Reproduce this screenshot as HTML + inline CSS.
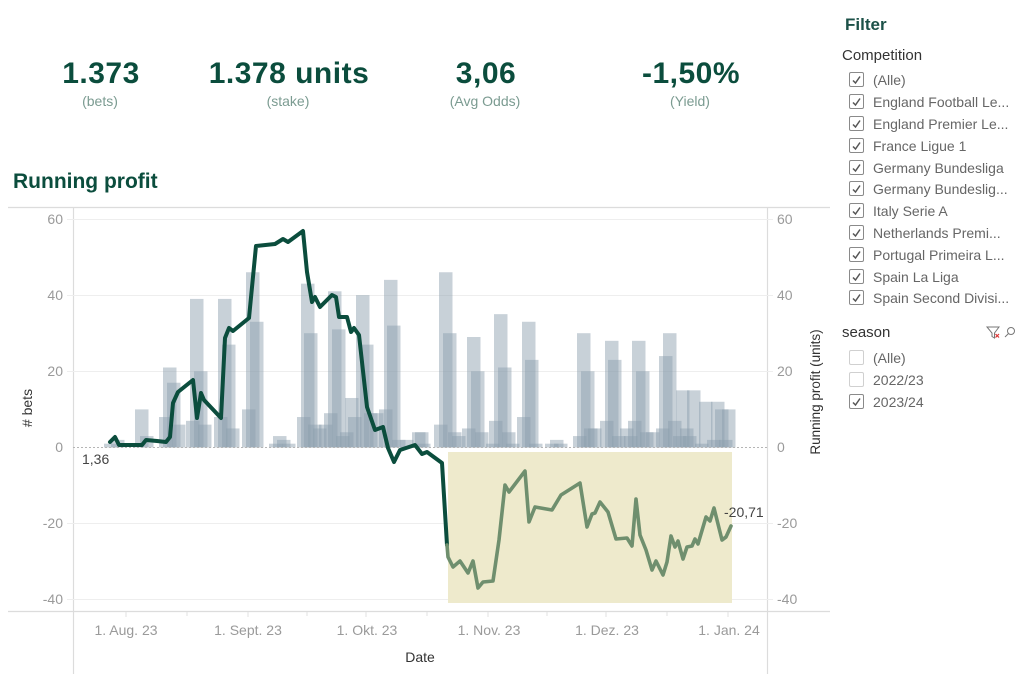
<!DOCTYPE html>
<html><head><meta charset="utf-8"><style>
html,body{margin:0;padding:0;background:#fff;}
svg{display:block;font-family:"Liberation Sans",sans-serif;}
</style></head><body>
<svg width="1024" height="691" viewBox="0 0 1024 691" xmlns="http://www.w3.org/2000/svg">
<rect width="1024" height="691" fill="#fff"/>
<!-- KPIs -->
<g font-weight="bold" font-size="30" fill="#0b4d3d" text-anchor="middle" letter-spacing="0.5">
<text x="101" y="83">1.373</text>
<text x="289" y="83">1.378 units</text>
<text x="486" y="83">3,06</text>
<text x="691" y="83">-1,50%</text>
</g>
<g font-size="14" fill="#7b9b91" text-anchor="middle">
<text x="100" y="106">(bets)</text>
<text x="288" y="106">(stake)</text>
<text x="485" y="106">(Avg Odds)</text>
<text x="690" y="106">(Yield)</text>
</g>
<text x="13" y="188" font-size="21" font-weight="bold" fill="#0b4d3d">Running profit</text>

<!-- chart frame -->
<g stroke="#dcdcdc" stroke-width="1.2" fill="none">
<line x1="8" y1="207.5" x2="830" y2="207.5"/>
<line x1="8" y1="611.5" x2="830" y2="611.5"/>
<line x1="73.5" y1="207" x2="73.5" y2="674"/>
<line x1="767.5" y1="207" x2="767.5" y2="674"/>
</g>
<!-- gridlines -->
<g stroke="#eeeeee" stroke-width="1">
<line x1="67" y1="219.5" x2="773" y2="219.5"/>
<line x1="67" y1="295.5" x2="773" y2="295.5"/>
<line x1="67" y1="371.5" x2="773" y2="371.5"/>
<line x1="67" y1="523.5" x2="773" y2="523.5"/>
<line x1="67" y1="599.5" x2="773" y2="599.5"/>
</g>
<!-- x ticks -->
<g stroke="#e2e2e2" stroke-width="1">
<line x1="126" y1="612" x2="126" y2="617"/><line x1="187" y1="612" x2="187" y2="616"/>
<line x1="248" y1="612" x2="248" y2="617"/><line x1="307" y1="612" x2="307" y2="616"/>
<line x1="366" y1="612" x2="366" y2="617"/><line x1="427" y1="612" x2="427" y2="616"/>
<line x1="488" y1="612" x2="488" y2="617"/><line x1="547" y1="612" x2="547" y2="616"/>
<line x1="606" y1="612" x2="606" y2="617"/><line x1="667" y1="612" x2="667" y2="616"/>
<line x1="728" y1="612" x2="728" y2="617"/>
</g>
<!-- highlight -->
<rect x="448" y="452" width="284" height="151" fill="#eeeacc"/>
<!-- bars -->
<g fill="rgb(140,158,173)" fill-opacity="0.48" id="bars"></g>
<!-- zero line -->
<line x1="73" y1="447.5" x2="767" y2="447.5" stroke="#b5b5b5" stroke-width="1" stroke-dasharray="2,2"/>
<!-- lines -->
<path fill="none" stroke="#0b4d3d" stroke-width="4" stroke-linejoin="round" stroke-linecap="round" d="M110,442 L115,437 L119,445 L142,445 L146,440 L157,441 L166,442 L170,437 L173,403 L178,392 L193,380 L197,418 L201,393 L204,400 L221,418 L225,338 L229,328 L233,331 L249,318 L256,246 L275,244 L283,239 L288,242 L303,231 L307,272 L312,302 L315,297 L320,307 L332,295 L336,297 L339,317 L347,317 L351,332 L354,328 L359,335 L367,407 L375,430 L383,427 L388,448 L394,462 L400,450 L415,445 L422,454 L427,452 L442,463 L447,545"/>
<path fill="none" stroke="#6f8f6e" stroke-width="3.6" stroke-linejoin="round" stroke-linecap="round" d="M447,545 L448,557 L453,567 L460,561 L468,573 L473,561 L478,588 L483,582 L493,581 L499,540 L505,485 L509,492 L525,471 L529,522 L535,507 L552,510 L561,495 L580,483 L587,527 L592,514 L595,513 L600,502 L608,512 L616,539 L627,538 L632,546 L636,499 L640,535 L646,550 L652,570 L656,561 L663,575 L667,562 L671,536 L675,547 L678,541 L683,559 L687,547 L692,546 L695,539 L698,544 L706,517 L710,521 L714,508 L722,540 L726,537 L731,526"/>
<text x="82" y="464" font-size="14" fill="#444">1,36</text>
<text x="724" y="517" font-size="14" fill="#444">-20,71</text>
<!-- y tick labels -->
<g font-size="14" fill="#9a9a9a" text-anchor="end">
<text x="63" y="224">60</text><text x="63" y="300">40</text><text x="63" y="376">20</text>
<text x="63" y="452">0</text><text x="63" y="528">-20</text><text x="63" y="604">-40</text>
</g>
<g font-size="14" fill="#9a9a9a">
<text x="777" y="224">60</text><text x="777" y="300">40</text><text x="777" y="376">20</text>
<text x="777" y="452">0</text><text x="777" y="528">-20</text><text x="777" y="604">-40</text>
</g>
<!-- x labels -->
<g font-size="14" fill="#9a9a9a" text-anchor="middle">
<text x="126" y="635">1. Aug. 23</text><text x="248" y="635">1. Sept. 23</text>
<text x="367" y="635">1. Okt. 23</text><text x="489" y="635">1. Nov. 23</text>
<text x="607" y="635">1. Dez. 23</text><text x="729" y="635">1. Jan. 24</text>
</g>
<text x="420" y="662" font-size="14" fill="#333" text-anchor="middle">Date</text>
<text transform="translate(32,408) rotate(-90)" font-size="14" fill="#333" text-anchor="middle"># bets</text>
<text transform="translate(820,392) rotate(-90)" font-size="13.5" fill="#333" text-anchor="middle">Running profit (units)</text>

<!-- filter panel -->
<text x="845" y="30" font-size="17" font-weight="bold" fill="#1c5148">Filter</text>
<text x="842" y="60" font-size="15" fill="#333">Competition</text>
<g font-size="14" fill="#666" id="comp">
<text x="873" y="85">(Alle)</text>
<text x="873" y="107">England Football Le...</text>
<text x="873" y="129">England Premier Le...</text>
<text x="873" y="151">France Ligue 1</text>
<text x="873" y="173">Germany Bundesliga</text>
<text x="873" y="194">Germany Bundeslig...</text>
<text x="873" y="216">Italy Serie A</text>
<text x="873" y="238">Netherlands Premi...</text>
<text x="873" y="260">Portugal Primeira L...</text>
<text x="873" y="282">Spain La Liga</text>
<text x="873" y="303">Spain Second Divisi...</text>
</g>
<g id="boxes" fill="#fff" stroke="#8a8a8a" stroke-width="1"></g>
<text x="842" y="337" font-size="15" fill="#333">season</text>
<g font-size="14" fill="#666">
<text x="873" y="363">(Alle)</text>
<text x="873" y="385">2022/23</text>
<text x="873" y="407">2023/24</text>
</g>
<!-- season icons -->
<g fill="none" stroke="#777" stroke-width="1">
<path d="M987,327 L999,327 L994.5,333 L994.5,338 L992,336.5 L992,333 Z"/>
<circle cx="1011" cy="331" r="3.5"/>
<line x1="1008.5" y1="333.5" x2="1005" y2="337"/>
</g>
<g stroke="#d33" stroke-width="1.2"><line x1="995.5" y1="334" x2="999" y2="337.5"/><line x1="999" y1="334" x2="995.5" y2="337.5"/></g>
</svg>
<script>
(function(){
var ns="http://www.w3.org/2000/svg";
var bars=[[104,1],[111,2],[135,10],[140,3],[159,8],[163,21],[167,17],[172,6],[186,7],[190,39],[194,20],[198,6],[214,8],[218,39],[222,27],[226,5],[242,10],[246,46],[250,33],[269,1],[273,3],[277,2],[282,1],[297,8],[301,43],[304,30],[308,6],[313,5],[319,6],[324,9],[328,41],[332,31],[336,3],[340,4],[345,13],[348,8],[356,40],[360,27],[364,9],[370,9],[379,10],[384,44],[387,32],[392,2],[400,2],[412,4],[415,4],[417,1],[434,6],[439,46],[443,30],[448,4],[452,3],[462,5],[467,29],[471,20],[475,4],[486,1],[489,7],[494,35],[498,21],[502,4],[506,1],[517,8],[522,33],[525,23],[529,1],[545,1],[550,2],[554,1],[573,3],[577,30],[581,20],[584,5],[588,5],[600,7],[605,28],[608,23],[612,3],[620,5],[624,3],[628,7],[632,28],[636,20],[640,4],[646,4],[656,5],[659,24],[663,30],[668,7],[673,3],[676,15],[680,5],[683,3],[687,15],[695,1],[699,12],[707,2],[711,12],[715,10],[719,2],[722,10]];
var g=document.getElementById("bars");
bars.forEach(function(b){var r=document.createElementNS(ns,"rect");var h=b[1]*3.81;r.setAttribute("x",b[0]);r.setAttribute("y",447.5-h);r.setAttribute("width",13.5);r.setAttribute("height",h);g.appendChild(r);});
var bx=document.getElementById("boxes");
var rows=[80,102,124,146,168,189,211,233,255,277,298,358,380,402];
var chk=[1,1,1,1,1,1,1,1,1,1,1,0,0,1];
rows.forEach(function(y,i){
var r=document.createElementNS(ns,"rect");r.setAttribute("x",849.5);r.setAttribute("y",y-7.5);r.setAttribute("width",14);r.setAttribute("height",14);r.setAttribute("rx",1.5);
if(!chk[i])r.setAttribute("stroke","#d0d0d0");bx.appendChild(r);
if(chk[i]){var p=document.createElementNS(ns,"path");p.setAttribute("d","M853,"+(y+0.5)+" L855.5,"+(y+3)+" L860,"+(y-3.5));p.setAttribute("stroke","#555");p.setAttribute("stroke-width","1.5");p.setAttribute("fill","none");bx.appendChild(p);}
});
})();
</script>
</body></html>
